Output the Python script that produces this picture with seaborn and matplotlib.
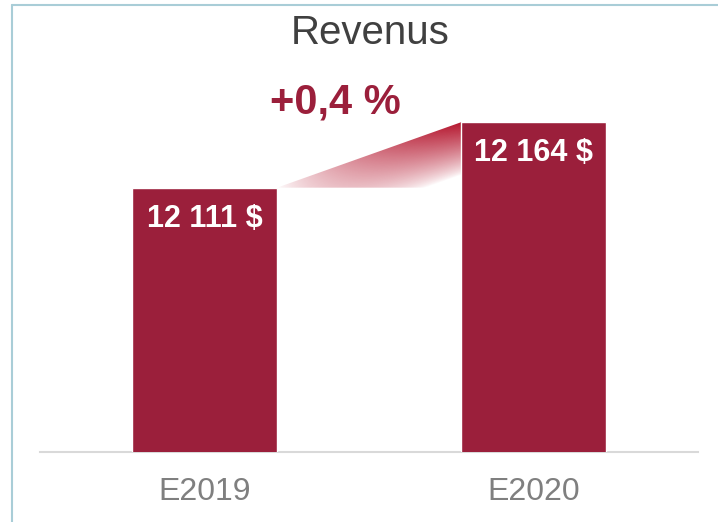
import numpy as np
import pandas as pd
import matplotlib
matplotlib.use('Agg')
import matplotlib.pyplot as plt
from matplotlib.patches import Polygon
from matplotlib.lines import Line2D
import seaborn as sns

categories = ['E2019', 'E2020']
revenues = [12111, 12164]
bar_labels = ['12 111 $', '12 164 $']
change_label = '+0,4 %'
title = 'Revenus'

bar_color = '#9b1f3b'
wedge_color = '#b5172f'

sns.set_style('white')
plt.rcParams['font.family'] = ['Liberation Sans', 'DejaVu Sans']

fig = plt.figure(figsize=(7.18, 5.22), dpi=100)
ax = fig.add_axes([40 / 718, 70 / 522, 658 / 718, 352 / 522])

df = pd.DataFrame({'cat': categories, 'rev': revenues})
width = 0.44
sns.barplot(data=df, x='cat', y='rev', color=bar_color, saturation=1,
            width=width, ax=ax, zorder=3)

# gradient wedge between the two bar tops
x0, x1 = 0 + width / 2, 1 - width / 2
y0, y1 = revenues[0], revenues[1]
xs = np.linspace(x0, x1, 300)
ys = np.linspace(y0, y1, 200)
X, Y = np.meshgrid(xs, ys)
xfrac = (X - x0) / (x1 - x0)
yline = y0 + (y1 - y0) * xfrac
d = (yline - Y) / (y1 - y0)
alpha = np.clip(xfrac, 0, 1) ** 0.8 * np.clip(1 - d / 0.8, 0, 1) ** 0.8
rgba = np.zeros(X.shape + (4,))
rgba[..., :3] = matplotlib.colors.to_rgb(wedge_color)
rgba[..., 3] = alpha
im = ax.imshow(rgba, extent=[x0, x1, y0, y1], origin='lower',
               aspect='auto', zorder=2, interpolation='bilinear')
tri = Polygon([[x0, y0], [x1, y1], [x1, y0]], closed=True,
              transform=ax.transData, facecolor='none', edgecolor='none')
ax.add_patch(tri)
im.set_clip_path(tri)

ax.set_xlim(-0.5, 1.5)
ax.set_ylim(11897, 12182)

for i, (v, lab) in enumerate(zip(revenues, bar_labels)):
    ax.annotate(lab, xy=(i, v), xytext=(0, -31), textcoords='offset pixels',
                ha='center', va='center', color='white', fontsize=22,
                fontweight='bold', zorder=5)

ax.annotate(change_label, xy=(0.5, revenues[1]), xytext=(-34, 9),
            textcoords='offset pixels', ha='center', va='baseline',
            color=bar_color, fontsize=30, fontweight='bold')

ax.set_xlabel('')
ax.set_ylabel('')
ax.set_yticks([])
ax.tick_params(axis='x', length=0, pad=18, labelsize=23, labelcolor='#7f7f7f')
for s in ['top', 'right', 'left']:
    ax.spines[s].set_visible(False)
ax.spines['bottom'].set_color('#d9d9d9')
ax.spines['bottom'].set_linewidth(1.5)

fig.text(370 / 718, 1 - 44 / 522, title, ha='center', va='baseline',
         fontsize=29, color='#404040')

# frame around the chart area
border = '#a9cdd7'
fig.add_artist(Line2D([11.5 / 718, 11.5 / 718], [0, 1 - 4.5 / 522],
                      color=border, lw=1.5, transform=fig.transFigure))
fig.add_artist(Line2D([11.5 / 718, 1], [1 - 4.5 / 522, 1 - 4.5 / 522],
                      color=border, lw=1.5, transform=fig.transFigure))

fig.savefig('out.png', dpi=100)
